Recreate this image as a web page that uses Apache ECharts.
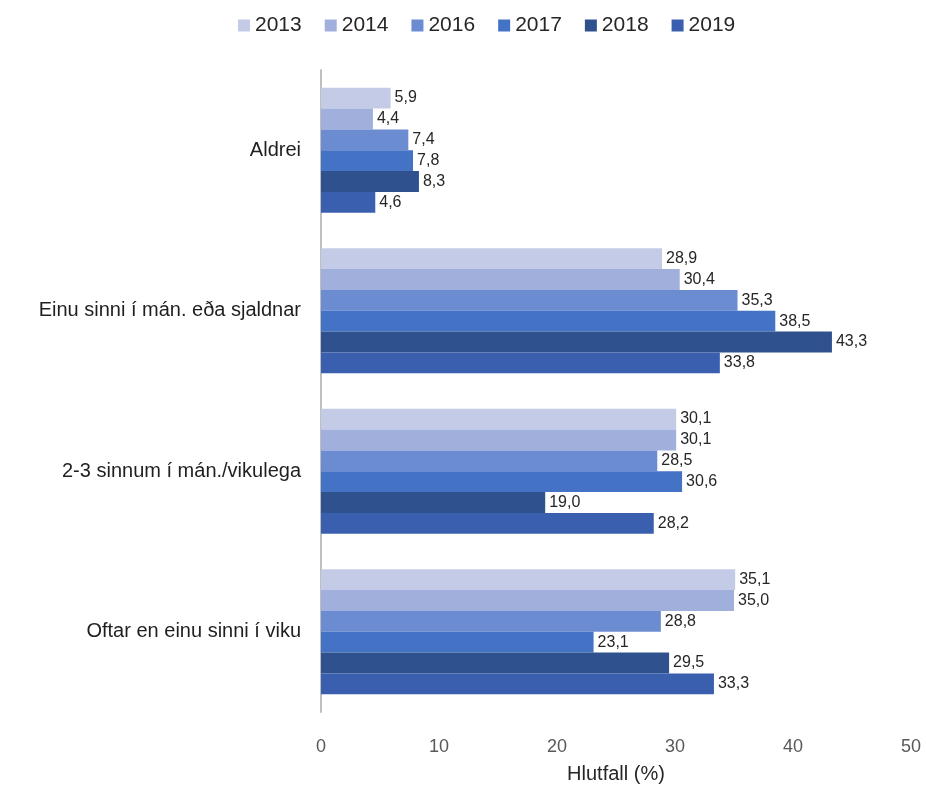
<!DOCTYPE html>
<html>
<head>
<meta charset="utf-8">
<script src="https://cdn.jsdelivr.net/npm/echarts@6/dist/echarts.min.js"></script>
<style>
  html, body { margin: 0; padding: 0; background: #fff; }
  #chart { width: 926px; height: 789px; }
</style>
</head>
<body>
<div id="chart"></div>
<script>
    // categories (top to bottom)
    var categories = ['Aldrei', 'Einu sinni í mán. eða sjaldnar', '2-3 sinnum í mán./vikulega', 'Oftar en einu sinni í viku'];
    var years = ['2013', '2014', '2016', '2017', '2018', '2019'];
    var colors = ['#c4cbe6', '#a0afdc', '#6c8cd2', '#4472c4', '#2f528f', '#3b5faf'];

    // values per year, in category order
    var v2013 = [5.9, 28.9, 30.1, 35.1];
    var v2014 = [4.4, 30.4, 30.1, 35.0];
    var v2016 = [7.4, 35.3, 28.5, 28.8];
    var v2017 = [7.8, 38.5, 30.6, 23.1];
    var v2018 = [8.3, 43.3, 19.0, 29.5];
    var v2019 = [4.6, 33.8, 28.2, 33.3];
    var values = [v2013, v2014, v2016, v2017, v2018, v2019];

    var myChart = echarts.init(document.getElementById('chart'));

    var series = years.map(function (y, i) {
        return {
            name: y,
            type: 'bar',
            barGap: '0%',
            barCategoryGap: '22%',
            itemStyle: { color: colors[i] },
            label: {
                show: true,
                position: 'right',
                distance: 4,
                color: '#262626',
                fontSize: 16,
                fontFamily: 'Liberation Sans, Arial, sans-serif',
                formatter: function (p) {
                    return p.value.toFixed(1).replace('.', ',');
                }
            },
            data: values[i]
        };
    });

    var option = {
        animation: false,
        textStyle: { fontFamily: 'Liberation Sans, Arial, sans-serif' },
        legend: {
            top: 10,
            left: 233,
            itemWidth: 12,
            itemHeight: 12,
            itemGap: 23,
            icon: 'rect',
            textStyle: { fontSize: 21, color: '#262626' },
            data: years
        },
        grid: {
            left: 321,
            right: 15,
            top: 70,
            bottom: 72
        },
        xAxis: {
            type: 'value',
            min: 0,
            max: 50,
            interval: 10,
            name: 'Hlutfall (%)',
            nameLocation: 'middle',
            nameGap: 52,
            nameTextStyle: { fontSize: 20, color: '#262626' },
            axisLine: { show: false },
            axisTick: { show: false },
            splitLine: { show: false },
            axisLabel: { fontSize: 18, color: '#595959', margin: 26 }
        },
        yAxis: {
            type: 'category',
            inverse: true,
            data: categories,
            axisLine: { show: true, lineStyle: { color: '#bfbfbf', width: 2 } },
            axisTick: { show: false },
            axisLabel: { fontSize: 20, color: '#1f1f1f', margin: 20 }
        },
        series: series
    };
    myChart.setOption(option);
</script>
</body>
</html>
